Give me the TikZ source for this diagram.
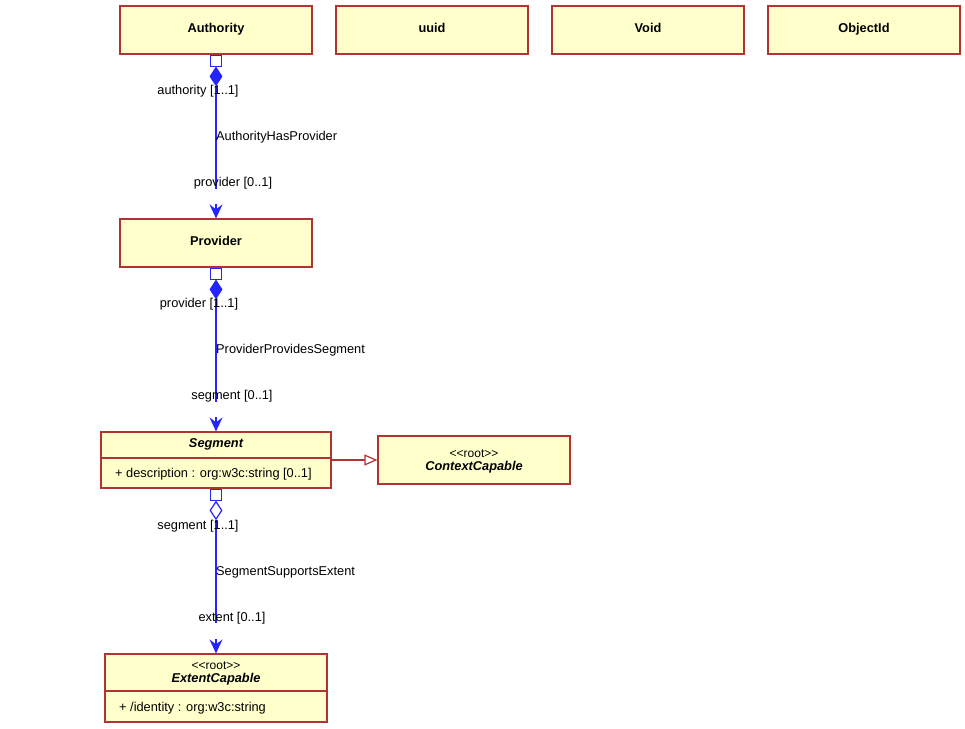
\documentclass[tikz,border=0pt]{standalone}
\usepackage{fontspec}
\setmainfont{Liberation Sans}
\usetikzlibrary{shapes.geometric,arrows.meta}
\definecolor{umlred}{HTML}{B03434}
\definecolor{umlfill}{HTML}{FFFFCC}
\definecolor{umlblue}{HTML}{2424FF}
\newcommand{\stereo}{<\kern0pt<root>\kern0pt>}
\begin{document}
\begin{tikzpicture}[x=1pt,y=-1pt,
  box/.style={draw=umlred, fill=umlfill, line width=1.2pt, inner sep=0pt},
  cls/.style={box, minimum width=192pt, minimum height=48pt, font=\fontsize{12.8}{14}\selectfont\bfseries, text height=9.3pt, text depth=4.5pt},
  txt/.style={inner sep=0pt, text height=9.2pt, text depth=0pt},
  ttl/.style={txt, font=\fontsize{12.8}{14}\selectfont\bfseries\itshape},
  ster/.style={txt, font=\fontsize{12}{14}\selectfont, text height=8.6pt},
  attr/.style={txt, font=\fontsize{12.8}{14}\selectfont, anchor=west},
  lbl/.style={txt, font=\fontsize{12.8}{14}\selectfont},
  sqr/.style={draw=umlblue, fill=white, line width=1.2pt, minimum size=11pt, inner sep=0pt, anchor=north},
  dmd/.style={diamond, draw=umlblue, line width=1.2pt, minimum width=12pt, minimum height=18pt, inner sep=0pt, anchor=north},
  assoc/.style={draw=umlblue, line width=1.5pt},
  tip/.style={draw=umlblue, line width=1.5pt, -{Stealth[length=14pt,width=13pt,inset=5pt]}},
  gen/.style={draw=umlred, line width=1.2pt, -{Triangle[open, length=13pt, width=11pt, fill=white]}}
]
\useasboundingbox (0,0) rectangle (965,728);

% top row classes
\node[cls] (auth) at (216,30) {Authority};
\node[cls] (uuid) at (432,30) {uuid};
\node[cls] (void) at (648,30) {Void};
\node[cls] (oid) at (864,30) {ObjectId};

% Provider
\node[cls] (prov) at (216,243) {Provider};

% Segment
\node[box, minimum width=230pt, minimum height=56pt] (seg) at (216,460) {};
\node[ttl] (segt) at (216,443) {Segment};
\draw[draw=umlred, line width=1.6pt] (seg.west |- 0,458) coordinate (segdl) -- (seg.east |- 0,458) coordinate (segdr);
\node[attr] (sega) at (115,473) {+ description : org:w3c:string [0..1]};

% ContextCapable
\node[box, minimum width=192pt, minimum height=48pt] (ctx) at (474,460) {};
\node[ster] (ctxs) at (474,453) {\stereo};
\node[ttl] (ctxt) at (474,466) {ContextCapable};

% ExtentCapable
\node[box, minimum width=222pt, minimum height=68pt] (ext) at (216,688) {};
\node[ster] (exts) at (216,665) {\stereo};
\node[ttl] (extt) at (216,678) {ExtentCapable};
\draw[draw=umlred, line width=1.6pt] (ext.west |- 0,691) coordinate (extdl) -- (ext.east |- 0,691) coordinate (extdr);
\node[attr] (exta) at (119,707) {+ /identity : org:w3c:string};

% Authority -> Provider
\node[sqr] (sq1) at (auth.south) {};
\node[dmd, fill=umlblue] (d1) at (sq1.south) {};
\draw[assoc] (d1.south) -- ([yshift=29pt]prov.north);
\draw[tip] ([yshift=14pt]prov.north) -- (prov.north);
\node[lbl] (l1a) at (198,90) {authority [1..1]};
\node[lbl, anchor=west] (l1b) at (216,136) {AuthorityHasProvider};
\node[lbl] (l1c) at (233,182) {provider [0..1]};

% Provider -> Segment
\node[sqr] (sq2) at (prov.south) {};
\node[dmd, fill=umlblue] (d2) at (sq2.south) {};
\draw[assoc] (d2.south) -- ([yshift=29pt]seg.north);
\draw[tip] ([yshift=14pt]seg.north) -- (seg.north);
\node[lbl] (l2a) at (199,303) {provider [1..1]};
\node[lbl, anchor=west] (l2b) at (216,349) {ProviderProvidesSegment};
\node[lbl] (l2c) at (232,395) {segment [0..1]};

% Segment -> ExtentCapable
\node[sqr] (sq3) at (seg.south) {};
\node[dmd, fill=white] (d3) at (sq3.south) {};
\draw[assoc] (d3.south) -- ([yshift=30pt]ext.north);
\draw[tip] ([yshift=14pt]ext.north) -- (ext.north);
\node[lbl] (l3a) at (198,525) {segment [1..1]};
\node[lbl, anchor=west] (l3b) at (216,571) {SegmentSupportsExtent};
\node[lbl] (l3c) at (232,617) {extent [0..1]};

% Generalization
\draw[gen] (seg.east) -- (ctx.west);
\end{tikzpicture}
\end{document}
